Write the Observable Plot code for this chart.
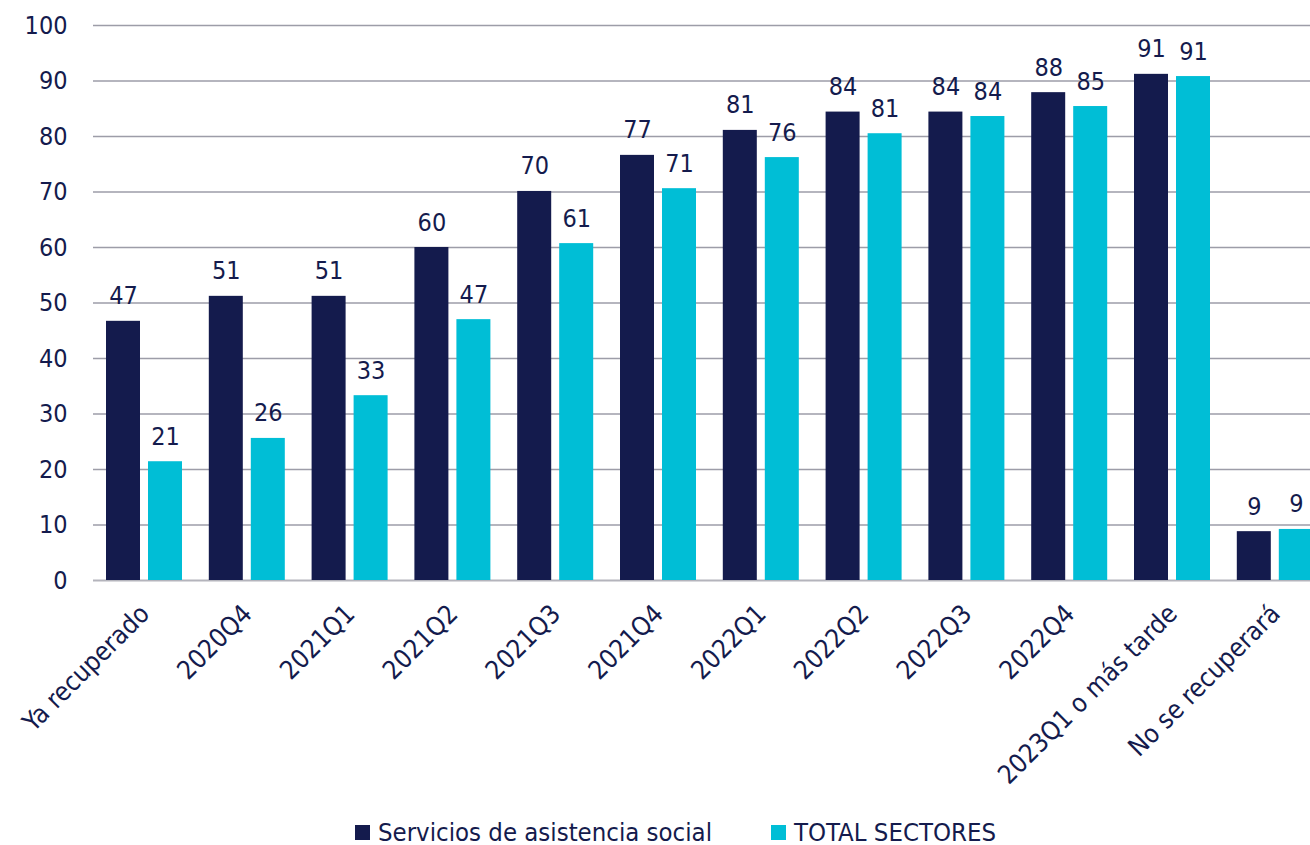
<!DOCTYPE html>
<html>
<head>
<meta charset="utf-8">
<script src="https://cdn.jsdelivr.net/npm/d3@7"></script>
<script src="https://cdn.jsdelivr.net/npm/@observablehq/plot@0.6"></script>
<style>
  body { margin: 0; background: #fff; font-family: "DejaVu Sans Condensed", "DejaVu Sans", sans-serif; }
  #chart { position: relative; width: 1310px; }
  .legend { position: relative; height: 45px; width: 1310px; font-size: 25.5px; color: #141B4D; }
  .item { position: absolute; top: 17px; display: flex; align-items: center; white-space: nowrap; }
  .sw { width: 15px; height: 15px; margin-right: 8px; display: inline-block; }
</style>
</head>
<body>
<div id="chart"></div>
<div class="legend" id="legend"></div>
<script>
const categories = ["Ya recuperado", "2020Q4", "2021Q1", "2021Q2", "2021Q3", "2021Q4", "2022Q1", "2022Q2", "2022Q3", "2022Q4", "2023Q1 o más tarde", "No se recuperará"];
const servicios = [46.7, 51.2, 51.2, 60.0, 70.1, 76.6, 81.1, 84.4, 84.4, 87.9, 91.2, 8.8];
const total = [21.4, 25.6, 33.3, 47.0, 60.7, 70.6, 76.2, 80.5, 83.6, 85.4, 90.8, 9.2];
const seriesNames = ["Servicios de asistencia social", "TOTAL SECTORES"];
const yTicks = [0, 10, 20, 30, 40, 50, 60, 70, 80, 90, 100];

const navy = "#141B4D";
const cyan = "#00BED6";
const font = `"DejaVu Sans Condensed", "DejaVu Sans", sans-serif`;

const rows = categories.map((c, i) => ({cat: c, servicios: servicios[i], total: total[i]}));

const chart = Plot.plot({
  width: 1310,
  height: 800,
  marginLeft: 93,
  marginRight: 0,
  marginTop: 25,
  marginBottom: 220,
  style: {fontFamily: font, fontSize: "25px", color: navy, background: "#fff", overflow: "hidden"},
  x: {domain: categories, padding: 0, round: false, range: [93, 1326.6], label: null},
  y: {domain: [0, 100], label: null},
  marks: [
    Plot.gridY(yTicks.filter(d => d > 0), {stroke: "#9d9da8", strokeOpacity: 1, strokeWidth: 1.5}),
    Plot.ruleY([0], {stroke: "#b4b4bc", strokeWidth: 2}),
    Plot.barY(rows, {x: "cat", y: "servicios", fill: navy, insetLeft: 13, insetRight: 55.8}),
    Plot.barY(rows, {x: "cat", y: "total", fill: cyan, insetLeft: 55, insetRight: 13.8}),
    Plot.text(rows, {x: "cat", y: "servicios", text: d => String(Math.round(d.servicios)), dx: -21.4, dy: -17, lineAnchor: "bottom", fill: navy, fontSize: 25}),
    Plot.text(rows, {x: "cat", y: "total", text: d => String(Math.round(d.total)), dx: 20.6, dy: -17, lineAnchor: "bottom", fill: navy, fontSize: 25}),
    Plot.axisY(yTicks, {tickSize: 0, tickPadding: 26, fontSize: 25, fill: navy, label: null}),
    Plot.axisX({tickRotate: -45, tickSize: 0, tickPadding: 29, fontSize: 26, fill: navy, label: null})
  ]
});
document.getElementById("chart").appendChild(chart);

const legend = document.getElementById("legend");
const lefts = [355, 771];
[navy, cyan].forEach((col, i) => {
  const it = document.createElement("div");
  it.className = "item";
  it.style.left = lefts[i] + "px";
  const sw = document.createElement("span");
  sw.className = "sw";
  sw.style.background = col;
  const tx = document.createElement("span");
  tx.textContent = seriesNames[i];
  it.appendChild(sw);
  it.appendChild(tx);
  legend.appendChild(it);
});
</script>
</body>
</html>
